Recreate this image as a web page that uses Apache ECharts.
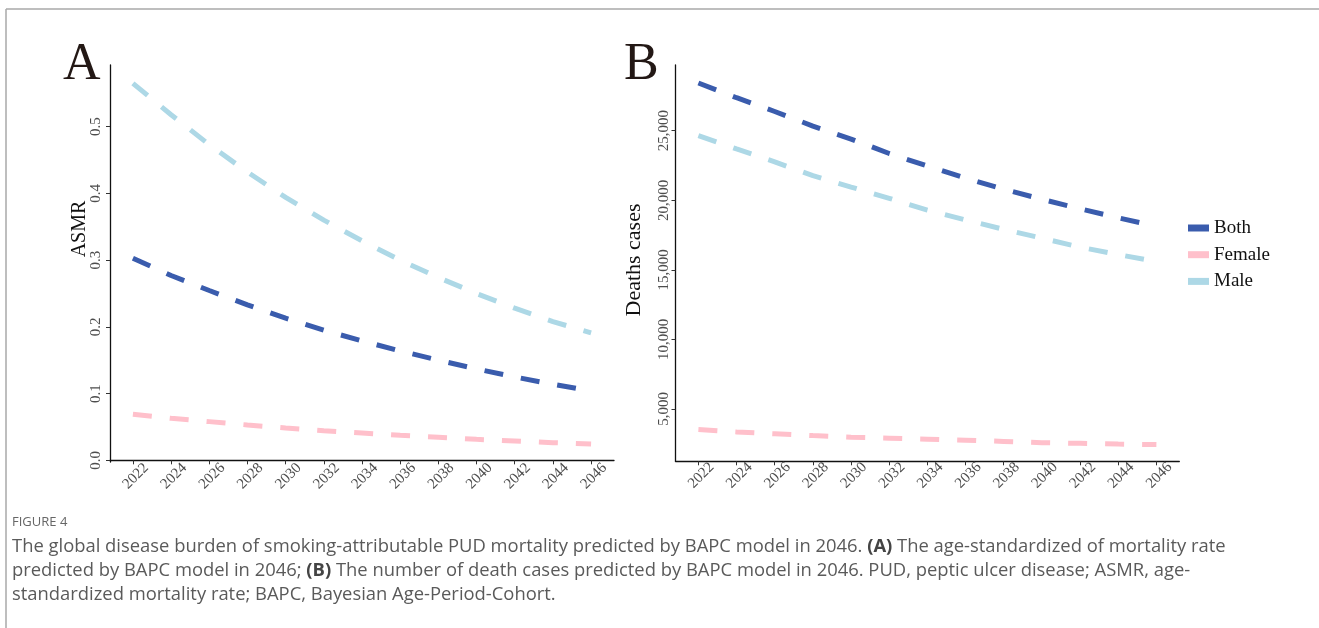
<!DOCTYPE html>
<html>
<head>
<meta charset="utf-8">
<script src="https://cdn.jsdelivr.net/npm/echarts@6/dist/echarts.min.js"></script>
<style>
html,body{margin:0;padding:0;background:#fff;}
#chart{width:1319px;height:628px;}
</style>
</head>
<body>
<div id="chart"></div>
<script>
// ---- data ----
const years = [2022, 2024, 2026, 2028, 2030, 2032, 2034, 2036, 2038, 2040, 2042, 2044, 2046];
const seriesNames = ['Both', 'Female', 'Male'];

// Panel A: ASMR
const asmrBoth   = [0.303, 0.277, 0.2545, 0.233, 0.213, 0.195, 0.179, 0.164, 0.150, 0.137, 0.125, 0.114, 0.104];
const asmrFemale = [0.069, 0.063, 0.058, 0.053, 0.0485, 0.0445, 0.041, 0.0375, 0.0345, 0.0315, 0.029, 0.0265, 0.0245];
const asmrMale   = [0.565, 0.518, 0.473, 0.432, 0.394, 0.360, 0.329, 0.300, 0.274, 0.250, 0.228, 0.208, 0.191];

// Panel B: death cases
const deathsBoth   = [28430, 27370, 26380, 25330, 24400, 23360, 22460, 21590, 20790, 20070, 19390, 18740, 18130];
const deathsFemale = [3520, 3350, 3220, 3090, 2970, 2900, 2830, 2760, 2670, 2580, 2530, 2480, 2440];
const deathsMale   = [24650, 23690, 22760, 21770, 20950, 20140, 19290, 18590, 17910, 17280, 16630, 16100, 15590];

// tick labels
const xTicks = [2022, 2024, 2026, 2028, 2030, 2032, 2034, 2036, 2038, 2040, 2042, 2044, 2046];
const yTicksA = [0, 0.1, 0.2, 0.3, 0.4, 0.5];
const yTicksB = [5000, 10000, 15000, 20000, 25000];

// ---- styles ----
const colors = {Both: '#3A5CAD', Female: '#FFC0CB', Male: '#ADD8E6'};
const serif = '"Liberation Serif", "Times New Roman", serif';
const labelColor = '#4D4D4D';
const tickFont = 15;

function pairs(vals) { return years.map((y, i) => [y, vals[i]]); }

function xAxis(gridIndex) {
  return {
    type: 'value', gridIndex, min: 2020.8, max: 2047.2,
    splitLine: {show: false},
    axisLine: {show: true, lineStyle: {color: '#111', width: 1.3}},
    axisTick: {show: true, length: 4, customValues: xTicks, lineStyle: {color: '#333', width: 1}},
    axisLabel: {
      customValues: xTicks, rotate: 45, align: 'center', verticalAlign: 'middle',
      padding: [8, 0, 0, 8], margin: 17,
      fontFamily: serif, fontSize: tickFont, color: labelColor,
      formatter: v => String(v)
    }
  };
}

function yAxis(gridIndex, min, max, ticks, fmt, margin) {
  return {
    type: 'value', gridIndex, min, max,
    splitLine: {show: false},
    axisLine: {show: true, lineStyle: {color: '#111', width: 1.3}},
    axisTick: {show: true, length: 4, customValues: ticks, lineStyle: {color: '#333', width: 1}},
    axisLabel: {
      customValues: ticks, rotate: 90, align: 'center', verticalAlign: 'bottom',
      margin, fontFamily: serif, fontSize: tickFont, color: labelColor, formatter: fmt
    }
  };
}

function lineSeries(name, idx, vals) {
  return {
    type: 'line', name, xAxisIndex: idx, yAxisIndex: idx,
    data: pairs(vals), showSymbol: false, symbol: 'none',
    itemStyle: {color: colors[name]},
    lineStyle: {color: colors[name], width: 5, type: [19, 18], cap: 'butt'},
    z: name === 'Both' ? 3 : 2
  };
}

const chart = echarts.init(document.getElementById('chart'), null, {renderer: 'canvas'});

const capFont = '"Open Sans", "Lato", sans-serif';
const capColor = '#5A5A5A';
const capSize = 18.4;

chart.setOption({
  animation: false,
  backgroundColor: '#ffffff',
  grid: [
    {left: 110, top: 65, width: 504, height: 397},
    {left: 675.5, top: 65, width: 503.8, height: 396.3}
  ],
  xAxis: [xAxis(0), xAxis(1)],
  yAxis: [
    yAxis(0, -0.0025, 0.5925, yTicksA, v => v.toFixed(1), 6),
    yAxis(1, 1241, 29721, yTicksB, v => v.toLocaleString('en-US'), 4)
  ],
  legend: {
    orient: 'vertical', left: 1183, top: 213,
    data: seriesNames, icon: 'rect', itemWidth: 21, itemHeight: 7,
    itemGap: 6.7, itemTextGap: 12,
    textStyle: {fontFamily: serif, fontSize: 19, color: '#111', lineHeight: 20}
  },
  series: [
    lineSeries('Male', 0, asmrMale),
    lineSeries('Both', 0, asmrBoth),
    lineSeries('Female', 0, asmrFemale),
    lineSeries('Male', 1, deathsMale),
    lineSeries('Both', 1, deathsBoth),
    lineSeries('Female', 1, deathsFemale)
  ],
  graphic: [
    // frame
    {type: 'line', shape: {x1: 6, y1: 9, x2: 1319, y2: 9}, style: {stroke: '#A8A8A8', lineWidth: 1.5}},
    {type: 'line', shape: {x1: 6, y1: 9, x2: 6, y2: 628}, style: {stroke: '#A8A8A8', lineWidth: 1.5}},
    // panel letters
    {type: 'text', x: 63, y: 65, style: {text: 'A', font: '52px "Liberation Serif", serif', fill: '#231815', align: 'left', verticalAlign: 'middle'}},
    {type: 'text', x: 624, y: 65, style: {text: 'B', font: '52px "Liberation Serif", serif', fill: '#231815', align: 'left', verticalAlign: 'middle'}},
    // axis titles
    {type: 'text', x: 80, y: 229, rotation: Math.PI / 2, style: {text: 'ASMR', font: '20px "Liberation Serif", serif', fill: '#111', align: 'center', verticalAlign: 'middle'}},
    {type: 'text', x: 634, y: 260, rotation: Math.PI / 2, style: {text: 'Deaths cases', font: '22px "Liberation Serif", serif', fill: '#111', align: 'center', verticalAlign: 'middle'}},
    // caption
    {type: 'text', x: 12, y: 522, style: {text: 'FIGURE 4', font: '13px ' + capFont, fill: '#666', verticalAlign: 'middle'}},
    {type: 'text', x: 12, y: 547, style: {
      text: 'The global disease burden of smoking-attributable PUD mortality predicted by BAPC model in 2046. {b|(A)} The age-standardized of mortality rate',
      font: capSize + 'px ' + capFont, fill: capColor, verticalAlign: 'middle',
      rich: {b: {fontWeight: 'bold', fontFamily: capFont, fontSize: capSize, fill: '#444'}}
    }},
    {type: 'text', x: 12, y: 571, style: {
      text: 'predicted by BAPC model in 2046; {b|(B)} The number of death cases predicted by BAPC model in 2046. PUD, peptic ulcer disease; ASMR, age-',
      font: capSize + 'px ' + capFont, fill: capColor, verticalAlign: 'middle',
      rich: {b: {fontWeight: 'bold', fontFamily: capFont, fontSize: capSize, fill: '#444'}}
    }},
    {type: 'text', x: 12, y: 595, style: {
      text: 'standardized mortality rate; BAPC, Bayesian Age-Period-Cohort.',
      font: capSize + 'px ' + capFont, fill: capColor, verticalAlign: 'middle'
    }}
  ]
});
</script>
</body>
</html>
